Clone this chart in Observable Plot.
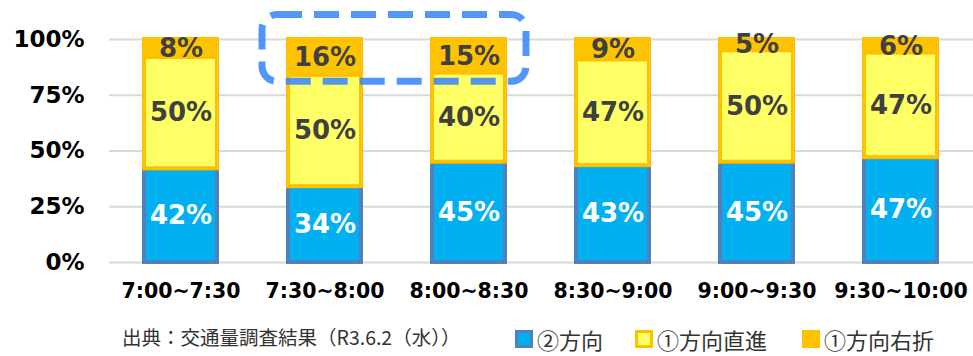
<!DOCTYPE html>
<html><head><meta charset="utf-8">
<script src="https://cdn.jsdelivr.net/npm/d3@7"></script>
<script src="https://cdn.jsdelivr.net/npm/@observablehq/plot@0.6"></script>
<style>
body{margin:0;background:#fff;}
#wrap{position:relative;width:973px;height:356px;overflow:hidden;}
.chart text{font-weight:bold;}
[aria-label^="y-axis"] text{font-size:23px;}
[aria-label^="x-axis"] text{font-size:20.5px;}
#caption{position:absolute;left:122px;top:326px;font-family:"Noto Sans CJK JP";font-size:19.5px;line-height:22px;color:#333;white-space:nowrap;}
.lg{position:absolute;top:327px;height:24px;display:flex;align-items:center;font-family:"Noto Sans CJK JP";font-size:22px;line-height:24px;color:#333;white-space:nowrap;}
.lg .sw{width:12px;height:12px;border:3px solid;margin-right:4px;}
</style>
</head><body>
<div id="wrap"><div id="chart"></div>
<div id="caption">出典：交通量調査結果（R3.6.2（水））</div>
</div>
<script>
const times = ["7:00~7:30","7:30~8:00","8:00~8:30","8:30~9:00","9:00~9:30","9:30~10:00"];
const seriesNames = ["②方向","①方向直進","①方向右折"];
const dir2 = [42,34,45,43,45,47];
const dir1Straight = [50,50,40,47,50,47];
const dir1Right = [8,16,15,9,5,6];
const yTicks = [0,0.25,0.5,0.75,1];
const highlightCats = ["7:30~8:00","8:00~8:30"];
const highlightY = [1.11, 0.81];

const fills = {"②方向":"#00B0F0","①方向直進":"#FFFF66","①方向右折":"#FFC400"};
const strokes = {"②方向":"#4F81BD","①方向直進":"#FFC000","①方向右折":"#FFC000"};
const labelFill = {"②方向":"#ffffff","①方向直進":"#404040","①方向右折":"#404040"};
const legendLeft = [515, 635, 802];

const seriesVals = [dir2, dir1Straight, dir1Right];
const data = [];
seriesNames.forEach((s,i)=>times.forEach((t,j)=>data.push({time:t, series:s, value:seriesVals[i][j], label:seriesVals[i][j]+"%"})));

const chart = Plot.plot({
  width:973, height:310,
  marginLeft:109, marginRight:0, marginTop:39, marginBottom:48,
  className:"chart",
  style:{fontFamily:"DejaVu Sans", color:"#000", background:"#fff"},
  x:{domain:times, paddingInner:0.49, paddingOuter:0.245, tickSize:0, tickPadding:21, label:null},
  y:{domain:[0,1], ticks:yTicks, tickFormat:d=>Math.round(d*100)+"%", tickSize:0, tickPadding:25, label:null},
  color:{type:"identity"},
  marks:[
    Plot.ruleY(yTicks, {stroke:"#D9D9D9", strokeWidth:2}),
    Plot.barY(data, Plot.stackY({x:"time", y:"value", z:"series", offset:"normalize",
      fill:d=>fills[d.series], stroke:d=>strokes[d.series], strokeWidth:4})),
    Plot.text(data, Plot.stackY({x:"time", y:"value", z:"series", offset:"normalize",
      text:"label", fill:d=>labelFill[d.series], fontSize:26, fontWeight:"bold", fontFamily:"DejaVu Sans"}))
  ]
});
document.getElementById("chart").appendChild(chart);

const xs = chart.scale("x"), ys = chart.scale("y");
const hlLeft = xs.apply(highlightCats[0]) - 26;
const hlRight = xs.apply(highlightCats[1]) + xs.bandwidth + 21;
const hlTop = ys.apply(highlightY[0]), hlBottom = ys.apply(highlightY[1]);
d3.select(chart).append("rect")
  .attr("x", hlLeft).attr("y", hlTop).attr("width", hlRight-hlLeft).attr("height", hlBottom-hlTop)
  .attr("rx", 15).attr("ry", 15)
  .attr("fill", "none").attr("stroke", "#3A88FA").attr("stroke-opacity", 0.88)
  .attr("stroke-width", 7).attr("stroke-dasharray", "25 12");

const wrap = document.getElementById("wrap");
seriesNames.forEach((s,i)=>{
  const it = document.createElement("div"); it.className="lg"; it.style.left = legendLeft[i]+"px";
  const sw = document.createElement("div"); sw.className="sw";
  sw.style.background = fills[s]; sw.style.borderColor = strokes[s];
  const tx = document.createElement("span"); tx.textContent = s;
  it.appendChild(sw); it.appendChild(tx); wrap.appendChild(it);
});
</script>
</body></html>
